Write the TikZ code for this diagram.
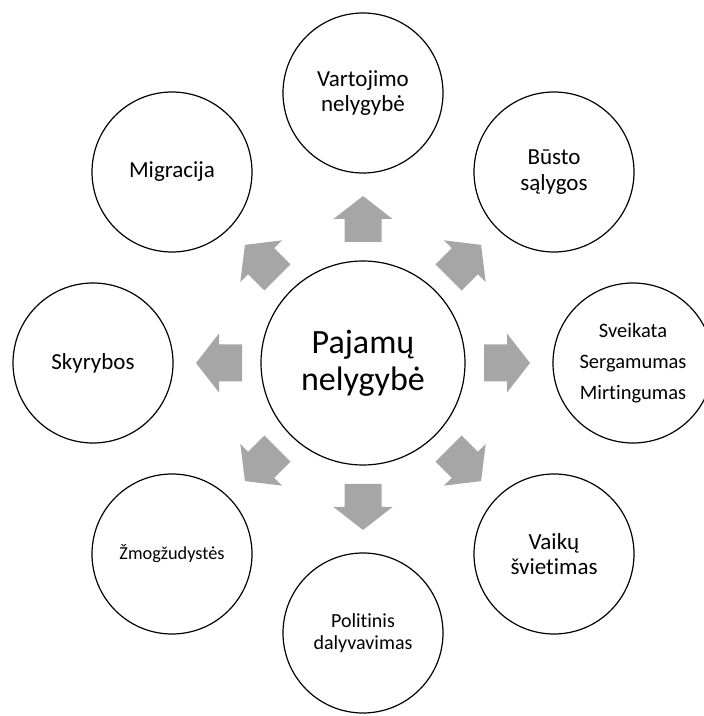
\documentclass[tikz,border=0pt]{standalone}
\usepackage{fontspec}
\setmainfont{Carlito}[Ligatures=NoCommon]
\definecolor{arrowgray}{RGB}{166,166,166}
\begin{document}
\begin{tikzpicture}[x=1pt,y=1pt,
  bubble/.style={draw,circle,line width=1.2pt,minimum size=160pt,inner sep=0pt,align=center,font=\fontsize{23}{25.3}\selectfont},
  hub/.style={draw,circle,line width=1.2pt,minimum size=204pt,inner sep=0pt,align=center,font=\fontsize{34}{37.5}\selectfont}]
\useasboundingbox (0,0) rectangle (704,716);
\node[hub] (pajamu) at (363,353) {Pajamų\\nelygybė};
\node[bubble] (vartojimo) at (363,623) {Vartojimo\\nelygybė};
\node[bubble] (busto) at (554,544) {Būsto\\sąlygos};
\node[bubble,font=\fontsize{20.5}{31}\selectfont] (sveikata) at (633,353) {Sveikata\\Sergamumas\\Mirtingumas};
\node[bubble] (vaiku) at (554,162) {Vaikų\\švietimas};
\node[bubble,font=\fontsize{20}{22}\selectfont] (politinis) at (363,83) {Politinis\\dalyvavimas};
\node[bubble,font=\fontsize{18.3}{20}\selectfont] (zmog) at (172,162) {Žmogžudystės};
\node[bubble] (skyrybos) at (93,353) {Skyrybos};
\node[bubble] (migracija) at (172,544) {Migracija};
% block arrows from the hub outwards
\foreach \a in {0,45,...,315}
  \fill[arrowgray,shift={(pajamu)},rotate=\a] (121,-18.5) -- (144,-18.5) -- (144,-29.5) -- (167,0) -- (144,29.5) -- (144,18.5) -- (121,18.5) -- cycle;
\end{tikzpicture}
\end{document}
